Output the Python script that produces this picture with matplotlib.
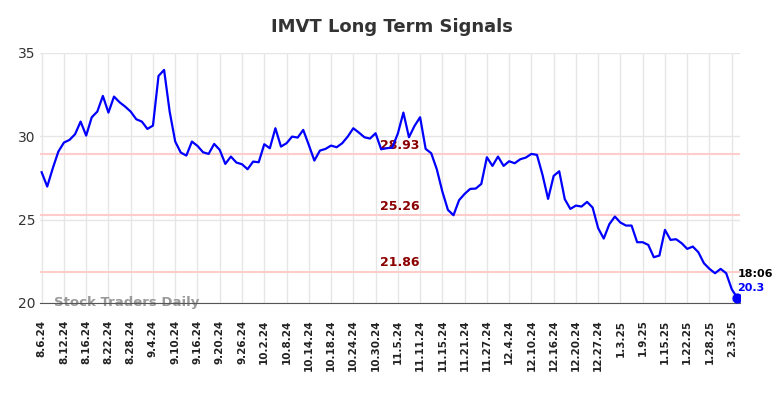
import matplotlib
matplotlib.use("Agg")
import matplotlib.pyplot as plt
import numpy as np

# Cours de clôture (un point par séance)
prix = [27.84, 26.98, 28.08, 29.08, 29.62, 29.78, 30.12, 30.88, 30.04, 31.14,
        31.48, 32.42, 31.42, 32.38, 32.04, 31.78, 31.48, 31.02, 30.88, 30.44,
        30.64, 33.62, 33.98, 31.48, 29.68, 29.02, 28.84, 29.68, 29.42, 29.04,
        28.94, 29.54, 29.18, 28.34, 28.78, 28.42, 28.32, 28.02, 28.48, 28.44,
        29.52, 29.28, 30.48, 29.38, 29.58, 29.98, 29.92, 30.38, 29.48, 28.54,
        29.14, 29.24, 29.44, 29.34, 29.58, 29.98, 30.48, 30.22, 29.94, 29.86,
        30.18, 29.22, 29.28, 29.32, 30.16, 31.42, 29.94, 30.62, 31.14, 29.24,
        28.98, 28.02, 26.68, 25.58, 25.26, 26.16, 26.54, 26.84, 26.86, 27.14,
        28.74, 28.22, 28.78, 28.22, 28.50, 28.38, 28.62, 28.72, 28.94, 28.88,
        27.68, 26.24, 27.62, 27.90, 26.22, 25.64, 25.84, 25.78, 26.06, 25.72,
        24.48, 23.86, 24.72, 25.18, 24.82, 24.64, 24.64, 23.64, 23.64, 23.48,
        22.74, 22.84, 24.38, 23.78, 23.82, 23.58, 23.24, 23.38, 23.04, 22.38,
        22.04, 21.78, 22.04, 21.78, 20.82, 20.30]

dates_ticks = ['8.6.24', '8.12.24', '8.16.24', '8.22.24', '8.28.24', '9.4.24',
               '9.10.24', '9.16.24', '9.20.24', '9.26.24', '10.2.24', '10.8.24',
               '10.14.24', '10.18.24', '10.24.24', '10.30.24', '11.5.24', '11.11.24',
               '11.15.24', '11.21.24', '11.27.24', '12.4.24', '12.10.24', '12.16.24',
               '12.20.24', '12.27.24', '1.3.25', '1.9.25', '1.15.25', '1.22.25',
               '1.28.25', '2.3.25']
pas_ticks = 4

niveaux = [28.93, 25.26, 21.86]
heure = '18:06'

x = np.arange(len(prix))

fig = plt.figure(figsize=(7.84, 3.98), dpi=100)
ax = fig.add_axes([0.051, 0.239, 0.893, 0.628])

# Grille
ax.set_axisbelow(True)
ax.grid(True, color='#e6e6e6', linewidth=1)

# Niveaux de signal
for n in niveaux:
    ax.axhline(n, color='#ffcccc', linewidth=1.5, zorder=1)
    ax.text(64.4, n + 0.15, f'{n:.2f}', color='#8b0000', fontsize=9,
            fontweight='bold', ha='center', va='bottom', zorder=2)

# Courbe des prix
ax.plot(x, prix, color='#0000ff', linewidth=1.6, zorder=3)
ax.scatter([x[-1]], [prix[-1]], color='#0000ff', s=40, zorder=4)

ax.text(x[-1], prix[-1] + 1.45, heure, fontsize=8, fontweight='bold',
        color='black', ha='left', va='center')
ax.text(x[-1], prix[-1] + 0.6, f'{prix[-1]:g}', fontsize=8, fontweight='bold',
        color='#0000ff', ha='left', va='center')

ax.text(2.2, 20.0, 'Stock Traders Daily', fontsize=9.5, fontweight='bold',
        color='#999999', ha='left', va='center', zorder=2)

ax.set_xlim(-0.3, 125.5)
ax.set_ylim(20, 35)
ax.set_yticks([20, 25, 30, 35])
ax.set_xticks(x[::pas_ticks][:len(dates_ticks)])
ax.set_xticklabels(dates_ticks, rotation=90, fontsize=7.5, fontweight='bold',
                   color='#222222')
ax.tick_params(axis='y', labelsize=10, colors='#333333', length=0)
ax.tick_params(axis='x', length=0, pad=12)

for s in ['top', 'right', 'left']:
    ax.spines[s].set_visible(False)
ax.spines['bottom'].set_color('#555555')

fig.suptitle('IMVT Long Term Signals', fontsize=13, fontweight='bold',
             color='#333333', y=0.955)

fig.savefig('out.png', dpi=100)
